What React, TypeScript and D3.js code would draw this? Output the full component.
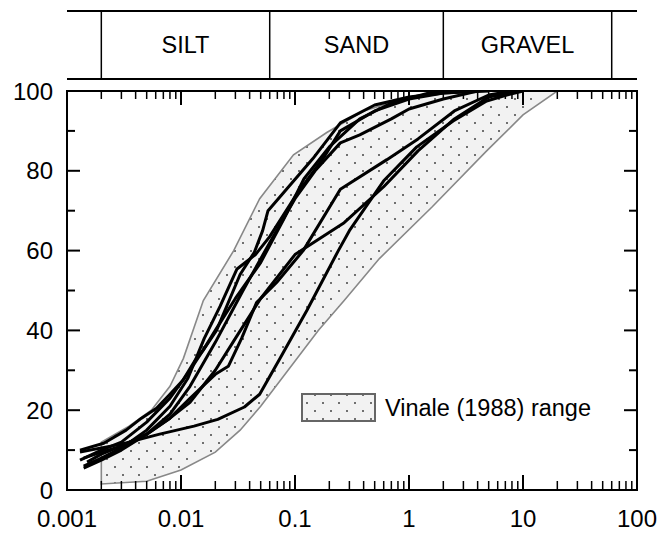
import React from "react";
import * as d3 from "d3";

type P = [number, number];

const xTicks = [0.001, 0.01, 0.1, 1, 10, 100];
const xTickLabels = ["0.001", "0.01", "0.1", "1", "10", "100"];
const yTicks = [0, 20, 40, 60, 80, 100];
const yMinorTicks = [10, 30, 50, 70, 90];
const fractionBounds = [0.002, 0.06, 2, 60];
const fractionLabels = ["SILT", "SAND", "GRAVEL"];
const legendLabel = "Vinale (1988) range";

const vinaleUpper: P[] = [
  [0.002, 12], [0.0035, 16], [0.0055, 20], [0.008, 26], [0.0105, 33], [0.0157, 47.5],
  [0.029, 60], [0.049, 73], [0.097, 84], [0.19, 89.6], [0.4, 95], [1, 98.5], [2.5, 100],
];
const vinaleLower: P[] = [
  [0.002, 1.5], [0.005, 2.2], [0.01, 5], [0.02, 9.5], [0.033, 15], [0.05, 21],
  [0.16, 40], [0.27, 47.5], [0.55, 58], [1.6, 71], [4.8, 85], [10, 94], [20, 100],
];

const sampleA: P[] = [
  [0.0013, 9.5], [0.003, 11.5], [0.0065, 14], [0.013, 16], [0.021, 17.7], [0.036, 20.8],
  [0.049, 24], [0.074, 33], [0.127, 45], [0.24, 60], [0.3, 65], [0.6, 77.5], [1.17, 86],
  [2.44, 92.5], [4.8, 97.5], [7.2, 99], [10, 100],
];
const sampleB: P[] = [
  [0.0013, 7.5], [0.002, 10], [0.003, 12], [0.005, 17], [0.008, 23], [0.012, 30], [0.0156, 35],
  [0.0205, 40], [0.033, 54], [0.044, 59.6], [0.052, 65], [0.058, 70], [0.143, 83], [0.25, 92],
  [0.5, 96.5], [1, 98.5], [2, 99.5], [4, 100],
];
const sampleC: P[] = [
  [0.0014, 6], [0.002, 8], [0.003, 10.5], [0.005, 15], [0.008, 21], [0.0115, 28], [0.016, 38],
  [0.022, 46], [0.031, 55.4], [0.045, 59], [0.06, 63.5], [0.1, 73.5], [0.18, 83.5], [0.25, 90],
  [0.5, 95], [1, 98], [2, 99.5], [5, 100],
];
const sampleD: P[] = [
  [0.0014, 5.5], [0.002, 7.5], [0.003, 10], [0.005, 14], [0.008, 19], [0.012, 26], [0.02, 37],
  [0.035, 50], [0.06, 62], [0.1, 73], [0.15, 80], [0.25, 87], [0.37, 89], [0.7, 93], [1, 95.5],
  [2, 98], [4, 100],
];
const sampleE: P[] = [
  [0.0015, 7], [0.002, 9], [0.003, 11], [0.005, 14], [0.008, 18], [0.012, 23], [0.02, 29],
  [0.026, 31], [0.034, 38], [0.046, 47], [0.069, 52], [0.118, 60], [0.25, 75.4], [0.64, 82.8],
  [1.2, 88], [2.5, 95], [5, 99], [8, 100],
];
const sampleF: P[] = [
  [0.0014, 8], [0.002, 9.5], [0.003, 11], [0.005, 14], [0.008, 18], [0.012, 22], [0.02, 30],
  [0.03, 38], [0.05, 48], [0.1, 59], [0.27, 67], [0.6, 76], [1.2, 85], [2.5, 93], [5, 98.5], [9, 100],
];
const sampleG: P[] = [
  [0.0013, 10], [0.0021, 11.7], [0.0033, 15], [0.0045, 18], [0.0061, 20.5], [0.008, 24],
  [0.0104, 27.5], [0.0133, 32.5], [0.0156, 35], [0.02, 40], [0.03, 48], [0.05, 57], [0.08, 68],
  [0.12, 78], [0.2, 86], [0.37, 93], [0.7, 97], [1.5, 99.5], [3, 100],
];
const samples = [sampleA, sampleB, sampleC, sampleD, sampleE, sampleF, sampleG];

const FONT = "'Liberation Sans', Arial, Helvetica, sans-serif";

export default function App() {
  const W = 662, H = 534;
  const left = 67, right = 637, top = 91, bottom = 490;
  const x = d3.scaleLog().domain([0.001, 100]).range([left, right]);
  const y = d3.scaleLinear().domain([0, 100]).range([bottom, top]);
  const line = d3.line<P>().x((d) => x(d[0])).y((d) => y(d[1]));

  const bandPoly: P[] = [...vinaleUpper, ...vinaleLower.slice().reverse()];
  const bandPath = line(bandPoly) + "Z";

  const minor: number[] = [];
  for (let k = 0; k < xTicks.length - 1; k++) {
    for (let m = 2; m <= 9; m++) minor.push(xTicks[k] * m);
  }

  const bandTop = 11, bandBot = 79;

  return (
    <svg width={W} height={H} style={{ position: "absolute", left: 0, top: 0, background: "#fff" }} fontFamily={FONT}>
      <defs>
        <pattern id="dots" width="16" height="16" patternUnits="userSpaceOnUse">
          <rect width="16" height="16" fill="#f2f2f2" />
          <circle cx="3" cy="3" r="1" fill="#444" />
          <circle cx="11" cy="11" r="1" fill="#444" />
        </pattern>
        <clipPath id="plotclip">
          <rect x={left} y={top} width={right - left} height={bottom - top} />
        </clipPath>
      </defs>

      {/* fraction band */}
      <line x1={left} x2={right} y1={bandTop} y2={bandTop} stroke="#000" strokeWidth={2} />
      <line x1={left} x2={right} y1={bandBot} y2={bandBot} stroke="#000" strokeWidth={2} />
      {fractionBounds.map((b) => (
        <line key={b} x1={x(b)} x2={x(b)} y1={bandTop} y2={bandBot} stroke="#000" strokeWidth={1.5} />
      ))}
      {fractionLabels.map((lab, i) => (
        <text key={lab} x={x(Math.sqrt(fractionBounds[i] * fractionBounds[i + 1]))} y={(bandTop + bandBot) / 2}
          textAnchor="middle" dominantBaseline="central" fontSize={23.5}>{lab}</text>
      ))}

      {/* Vinale range */}
      <path d={bandPath} fill="url(#dots)" stroke="#888" strokeWidth={1.6} clipPath="url(#plotclip)" />

      {/* samples */}
      <g clipPath="url(#plotclip)">
        {samples.map((s, i) => (
          <path key={i} d={line(s) || ""} fill="none" stroke="#000" strokeWidth={3} strokeLinejoin="round" />
        ))}
      </g>

      {/* legend */}
      <rect x={302} y={394} width={73} height={27} fill="url(#dots)" stroke="#666" strokeWidth={2} />
      <text x={385} y={408} dominantBaseline="central" fontSize={23.5}>{legendLabel}</text>

      {/* frame */}
      <rect x={left} y={top} width={right - left} height={bottom - top} fill="none" stroke="#000" strokeWidth={2} />

      {/* x ticks */}
      {xTicks.map((t) => (
        <g key={"x" + t}>
          <line x1={x(t)} x2={x(t)} y1={bottom} y2={bottom - 15} stroke="#000" strokeWidth={2} />
          <line x1={x(t)} x2={x(t)} y1={top} y2={top + 14} stroke="#000" strokeWidth={2} />
        </g>
      ))}
      {minor.map((t) => (
        <g key={"m" + t}>
          <line x1={x(t)} x2={x(t)} y1={bottom} y2={bottom - 9} stroke="#000" strokeWidth={1.5} />
          <line x1={x(t)} x2={x(t)} y1={top} y2={top + 8} stroke="#000" strokeWidth={1.5} />
        </g>
      ))}
      {xTicks.map((t, i) => (
        <text key={"xl" + t} x={x(t)} y={518} textAnchor="middle" dominantBaseline="central" fontSize={24}>
          {xTickLabels[i]}
        </text>
      ))}

      {/* y ticks */}
      {yTicks.map((t) => (
        <g key={"y" + t}>
          <line x1={left} x2={left + 13} y1={y(t)} y2={y(t)} stroke="#000" strokeWidth={2} />
          <line x1={right} x2={right - 13} y1={y(t)} y2={y(t)} stroke="#000" strokeWidth={2} />
          <text x={53} y={y(t)} textAnchor="end" dominantBaseline="central" fontSize={24}>{t}</text>
        </g>
      ))}
      {yMinorTicks.map((t) => (
        <g key={"ym" + t}>
          <line x1={left} x2={left + 8} y1={y(t)} y2={y(t)} stroke="#000" strokeWidth={2} />
          <line x1={right} x2={right - 8} y1={y(t)} y2={y(t)} stroke="#000" strokeWidth={2} />
        </g>
      ))}
    </svg>
  );
}
